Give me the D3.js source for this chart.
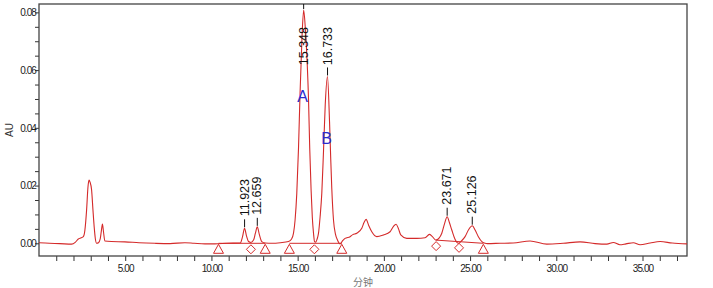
<!DOCTYPE html>
<html>
<head>
<meta charset="utf-8">
<script src="https://cdn.jsdelivr.net/npm/d3@7"></script>
<style>
    body { margin: 0; background: #fff; }
    #chart { width: 713px; height: 288px; }
</style>
</head>
<body>
<div id="chart"></div>
<script>
// 色谱图数据
const traceTime = [0.00, 0.60, 1.20, 1.89, 2.10, 2.28, 2.45, 2.57, 2.66, 2.76, 2.84, 2.90, 2.96, 3.05, 3.13, 3.20, 3.27, 3.34, 3.45, 3.55, 3.62, 3.68, 3.74, 3.82, 4.20, 4.98, 5.80, 6.72, 7.60, 8.46, 9.00, 9.62, 10.20, 10.90, 11.67, 11.80, 11.92, 12.04, 12.15, 12.29, 12.45, 12.55, 12.66, 12.78, 12.92, 13.12, 13.50, 14.00, 14.47, 14.65, 14.76, 14.85, 14.95, 15.05, 15.14, 15.25, 15.35, 15.45, 15.55, 15.63, 15.70, 15.78, 15.85, 15.92, 15.98, 16.05, 16.13, 16.21, 16.30, 16.40, 16.50, 16.60, 16.73, 16.85, 16.92, 16.98, 17.08, 17.20, 17.32, 17.46, 17.60, 17.75, 18.04, 18.20, 18.43, 18.72, 18.85, 18.97, 19.12, 19.30, 19.59, 19.97, 20.36, 20.55, 20.71, 20.85, 20.98, 21.33, 21.91, 22.39, 22.64, 22.80, 23.02, 23.20, 23.36, 23.52, 23.67, 23.80, 23.94, 24.12, 24.32, 24.50, 24.71, 24.92, 25.13, 25.30, 25.48, 25.70, 25.87, 26.00, 26.74, 27.50, 28.48, 29.45, 30.40, 31.38, 32.25, 32.93, 33.31, 33.69, 34.04, 34.47, 34.86, 35.44, 36.02, 36.72, 37.58];
const traceAU = [0.0002, 0.0000, -0.0001, -0.0003, 0.0003, 0.0015, 0.0019, 0.0023, 0.0045, 0.0115, 0.0195, 0.0219, 0.0212, 0.0185, 0.0115, 0.0057, 0.0015, 0.0000, 0.0002, 0.0015, 0.0045, 0.0067, 0.0040, 0.0008, 0.0006, 0.0005, 0.0002, 0.0000, -0.0001, 0.0002, 0.0000, -0.0002, -0.0002, 0.0000, 0.0001, 0.0022, 0.0052, 0.0024, 0.0006, 0.0003, 0.0012, 0.0035, 0.0057, 0.0030, 0.0006, 0.0001, 0.0000, 0.0002, 0.0006, 0.0015, 0.0035, 0.0080, 0.0173, 0.0330, 0.0520, 0.0710, 0.0808, 0.0740, 0.0630, 0.0500, 0.0330, 0.0185, 0.0090, 0.0035, 0.0006, 0.0004, 0.0015, 0.0035, 0.0090, 0.0173, 0.0320, 0.0480, 0.0578, 0.0420, 0.0290, 0.0190, 0.0080, 0.0030, 0.0010, -0.0002, 0.0008, 0.0017, 0.0023, 0.0030, 0.0035, 0.0052, 0.0072, 0.0083, 0.0062, 0.0040, 0.0023, 0.0029, 0.0040, 0.0058, 0.0066, 0.0050, 0.0029, 0.0017, 0.0017, 0.0019, 0.0031, 0.0024, 0.0011, 0.0018, 0.0035, 0.0068, 0.0092, 0.0072, 0.0046, 0.0015, 0.0000, 0.0008, 0.0023, 0.0048, 0.0061, 0.0045, 0.0023, 0.0005, 0.0000, -0.0001, 0.0000, 0.0001, 0.0008, -0.0003, 0.0000, 0.0005, -0.0001, -0.0003, 0.0003, -0.0005, -0.0002, 0.0002, -0.0005, 0.0001, 0.0006, 0.0001, -0.0002];

// 峰标注
const peakTimes = [11.923, 12.659, 15.348, 16.733, 23.671, 25.126];
const peakHeights = [0.0052, 0.0057, 0.0808, 0.0578, 0.0092, 0.0061];
const namedPeaks = [{ name: 'A', time: 15.348, height: 0.0808 }, { name: 'B', time: 16.733, height: 0.0578 }];

// 积分基线标记
const markerTime = [10.41, 12.29, 13.12, 14.52, 15.97, 17.56, 23.03, 24.36, 25.77];
const markerType = ['tri', 'dia', 'tri', 'tri', 'dia', 'tri', 'dia', 'dia', 'tri'];
const markerBase = [0, 0, 0, 0, 0, 0, 0.0011, 0.0005, 0];
const baselineSegments = [[0, 2], [3, 5], [6, 8]];

// 坐标轴
const xDomain = [0, 37.58];
const yDomain = [-0.0044, 0.0829];
const xMajorTicks = [5, 10, 15, 20, 25, 30, 35];
const xMinorTicks = d3.range(1, 38);
const yMajorTicks = [0, 0.02, 0.04, 0.06, 0.08];
const yMinorTicks = d3.range(0, 0.0826, 0.005);
const xTitle = '分钟';
const yTitle = 'AU';

const W = 713, H = 288;
const plot = { left: 39, top: 4, right: 687, bottom: 256 };
const red = '#d42a2a';

const svg = d3.select('#chart').append('svg')
    .attr('width', W)
    .attr('height', H)
    .style('font-family', '"Liberation Sans", Arial, sans-serif');

const x = d3.scaleLinear().domain(xDomain).range([plot.left, plot.right]);
const y = d3.scaleLinear().domain(yDomain).range([plot.bottom, plot.top]);

svg.append('defs').append('clipPath')
    .attr('id', 'plotClip')
    .append('rect')
    .attr('x', plot.left)
    .attr('y', plot.top)
    .attr('width', plot.right - plot.left)
    .attr('height', plot.bottom - plot.top);

// 坐标轴刻度
const xAxis = svg.append('g')
    .attr('transform', 'translate(0,' + plot.bottom + ')')
    .call(d3.axisBottom(x).tickValues(xMinorTicks).tickSize(5).tickFormat(''));
const xLabels = svg.append('g')
    .attr('transform', 'translate(0,' + plot.bottom + ')')
    .call(d3.axisBottom(x).tickValues(xMajorTicks).tickSize(0).tickPadding(9).tickFormat(d3.format('.2f')));
const yAxis = svg.append('g')
    .attr('transform', 'translate(' + plot.left + ',0)')
    .call(d3.axisLeft(y).tickValues(yMinorTicks).tickSize(4).tickFormat(''));
const yLabels = svg.append('g')
    .attr('transform', 'translate(' + plot.left + ',0)')
    .call(d3.axisLeft(y).tickValues(yMajorTicks).tickSize(0).tickPadding(3).tickFormat(d3.format('.2f')));

[xAxis, yAxis].forEach(g => {
    g.select('.domain').remove();
    g.selectAll('line').attr('stroke', '#333');
});
[xLabels, yLabels].forEach(g => {
    g.select('.domain').remove();
    g.selectAll('text')
        .attr('fill', '#222')
        .style('font-size', '10px')
        .style('letter-spacing', '-0.9px');
});

// 外框
svg.append('rect')
    .attr('x', plot.left)
    .attr('y', plot.top)
    .attr('width', plot.right - plot.left)
    .attr('height', plot.bottom - plot.top)
    .attr('fill', 'none')
    .attr('stroke', '#444')
    .attr('stroke-width', 1.3);

// 轴标题
svg.append('text')
    .attr('x', (plot.left + plot.right) / 2)
    .attr('y', 286)
    .attr('text-anchor', 'middle')
    .attr('fill', '#777')
    .style('font-size', '10px')
    .style('font-family', '"Noto Sans CJK SC", sans-serif')
    .text(xTitle);
svg.append('text')
    .attr('transform', 'translate(13,' + ((plot.top + plot.bottom) / 2) + ') rotate(-90)')
    .attr('text-anchor', 'middle')
    .attr('fill', '#333')
    .style('font-size', '10px')
    .text(yTitle);

const area = svg.append('g').attr('clip-path', 'url(#plotClip)');

// 基线
area.selectAll('.baseline')
    .data(baselineSegments)
    .enter()
    .append('line')
    .attr('class', 'baseline')
    .attr('x1', d => x(markerTime[d[0]]))
    .attr('y1', d => y(markerBase[d[0]]))
    .attr('x2', d => x(markerTime[d[1]]))
    .attr('y2', d => y(markerBase[d[1]]))
    .attr('stroke', red)
    .attr('stroke-width', 1);

// 色谱曲线
const line = d3.line()
    .x((d, i) => x(traceTime[i]))
    .y(d => y(d))
    .curve(d3.curveMonotoneX);
area.append('path')
    .datum(traceAU)
    .attr('d', line)
    .attr('fill', 'none')
    .attr('stroke', red)
    .attr('stroke-width', 1.1);

// 三角形和菱形标记
const markerPath = type => type === 'tri'
    ? 'M0,1L5,10L-5,10Z'
    : 'M0,1.5L4.5,6L0,10.5L-4.5,6Z';
area.selectAll('.marker')
    .data(markerTime)
    .enter()
    .append('path')
    .attr('class', 'marker')
    .attr('transform', (d, i) => 'translate(' + x(d) + ',' + y(markerBase[i]) + ')')
    .attr('d', (d, i) => markerPath(markerType[i]))
    .attr('fill', 'none')
    .attr('stroke', red)
    .attr('stroke-width', 1);

// 保留时间标签
const tags = area.selectAll('.peak-tag')
    .data(peakTimes)
    .enter()
    .append('g')
    .attr('class', 'peak-tag');
tags.append('line')
    .attr('x1', d => x(d))
    .attr('x2', d => x(d))
    .attr('y1', (d, i) => y(peakHeights[i]) - 1)
    .attr('y2', (d, i) => y(peakHeights[i]) - 9)
    .attr('stroke', '#111')
    .attr('stroke-width', 1);
tags.append('text')
    .attr('text-anchor', 'start')
    .attr('dominant-baseline', 'central')
    .attr('fill', '#111')
    .style('font-size', '12.5px')
    .text(d => d.toFixed(3))
    .each(function (d, i) {
        const len = this.getComputedTextLength();
        const bottom = Math.max(y(peakHeights[i]) - 12, plot.top + 23 + len);
        d3.select(this).attr('transform', 'translate(' + x(d) + ',' + bottom + ') rotate(-90)');
    });

// 峰名称
area.selectAll('.peak-name')
    .data(namedPeaks)
    .enter()
    .append('text')
    .attr('class', 'peak-name')
    .attr('x', d => x(d.time) - 1)
    .attr('y', d => y(d.height * 0.63))
    .attr('text-anchor', 'middle')
    .attr('dominant-baseline', 'central')
    .attr('fill', '#2a2ad0')
    .style('font-size', '16px')
    .text(d => d.name);
</script>
</body>
</html>
